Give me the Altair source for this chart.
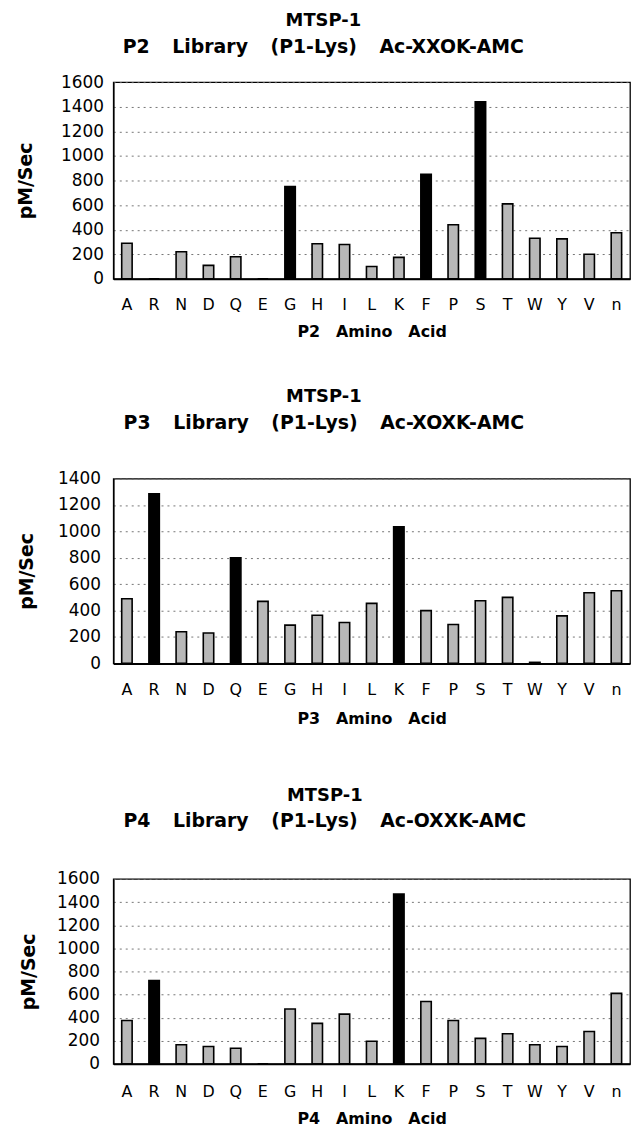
import altair as alt
import pandas as pd

aa = ["A", "R", "N", "D", "Q", "E", "G", "H", "I", "L", "K", "F", "P", "S", "T", "W", "Y", "V", "n"]

p2_vals = [290, 0, 220, 110, 180, 0, 750, 285, 280, 100, 175, 850, 440, 1440, 610, 330, 325, 200, 375]
p3_vals = [490, 1285, 240, 230, 800, 470, 290, 365, 310, 455, 1035, 400, 295, 475, 500, 8, 360, 535, 550]
p4_vals = [375, 720, 165, 150, 135, 0, 475, 350, 430, 195, 1470, 540, 375, 220, 260, 165, 150, 280, 610]

p2_hi = ["G", "F", "S"]
p3_hi = ["R", "Q", "K"]
p4_hi = ["R", "K"]

title_main = "MTSP-1"
sub_p2 = "P2\u2003\u2009Library\u2003\u2009(P1-Lys)\u2003\u2009Ac-XXOK-AMC"
sub_p3 = "P3\u2003\u2009Library\u2003\u2009(P1-Lys)\u2003\u2009Ac-XOXK-AMC"
sub_p4 = "P4\u2003\u2009Library\u2003\u2009(P1-Lys)\u2003\u2009Ac-OXXK-AMC"
xt_p2 = "P2\u2003Amino\u2003Acid"
xt_p3 = "P3\u2003Amino\u2003Acid"
xt_p4 = "P4\u2003Amino\u2003Acid"
y_title = "pM/Sec"


def make_panel(vals, hi, ymax, width, height, subtitle, xtitle, title_offset, title_dy,
               ytitle_pad, ylabel_pad, xlabel_pad, xtitle_pad):
    df = pd.DataFrame({
        "aa": aa,
        "v": vals,
        "grp": ["hi" if a in hi else "lo" for a in aa],
    })
    return alt.Chart(
        df,
        title=alt.TitleParams(
            text=title_main,
            subtitle=subtitle,
            font="DejaVu Sans",
            fontSize=18,
            fontWeight="bold",
            color="black",
            subtitleFont="DejaVu Sans",
            subtitleFontSize=19,
            subtitleFontWeight="bold",
            subtitleColor="black",
            subtitlePadding=8,
            anchor="middle",
            frame="bounds",
            offset=title_offset,
            dy=title_dy,
        ),
    ).mark_bar(size=10.5, stroke="black", strokeWidth=1.6).encode(
        x=alt.X(
            "aa:N",
            sort=aa,
            title=xtitle,
            scale=alt.Scale(paddingInner=0, paddingOuter=0),
            axis=alt.Axis(
                labelAngle=0,
                ticks=False,
                labelPadding=xlabel_pad,
                labelFont="DejaVu Sans",
                labelFontSize=16,
                labelColor="black",
                titleFont="DejaVu Sans",
                titleFontSize=16,
                titleFontWeight="bold",
                titleColor="black",
                titlePadding=xtitle_pad,
                domainColor="black",
                domainWidth=2,
                grid=False,
            ),
        ),
        y=alt.Y(
            "v:Q",
            title=y_title,
            scale=alt.Scale(domain=[0, ymax], nice=False),
            axis=alt.Axis(
                values=list(range(0, ymax + 1, 200)),
                format="d",
                ticks=False,
                labelPadding=ylabel_pad,
                labelFont="DejaVu Sans",
                labelFontSize=17,
                labelColor="black",
                titleFont="DejaVu Sans",
                titleFontSize=19,
                titleFontWeight="bold",
                titleColor="black",
                titlePadding=ytitle_pad,
                domainColor="black",
                domainWidth=1.5,
                grid=True,
                gridColor="#666666",
                gridDash=[2, 4],
                gridWidth=0.9,
            ),
        ),
        color=alt.Color(
            "grp:N",
            scale=alt.Scale(domain=["hi", "lo"], range=["#000000", "#b8b8b8"]),
            legend=None,
        ),
    ).properties(width=width, height=height)


c1 = make_panel(p2_vals, p2_hi, 1600, 520, 198, sub_p2, xt_p2, 4, -12, 25, 10, 18, 11)
c2 = make_panel(p3_vals, p3_hi, 1400, 520, 186, sub_p3, xt_p3, 37, 0, 21, 13, 18, 13)
c3 = make_panel(p4_vals, p4_hi, 1600, 520, 186, sub_p4, xt_p4, 39, 0, 18, 14, 20, 11)

inner = alt.concat(c1, c2, columns=1, align="none", spacing=47)
chart = alt.concat(
    inner, c3, columns=1, align="none", spacing=59,
).properties(
    padding={"left": 8, "top": 0, "right": 0, "bottom": 0},
    background="white",
).configure_view(
    stroke="black",
    strokeWidth=1.3,
)

chart.save("out.html", embed_options={"renderer": "svg", "actions": False})
